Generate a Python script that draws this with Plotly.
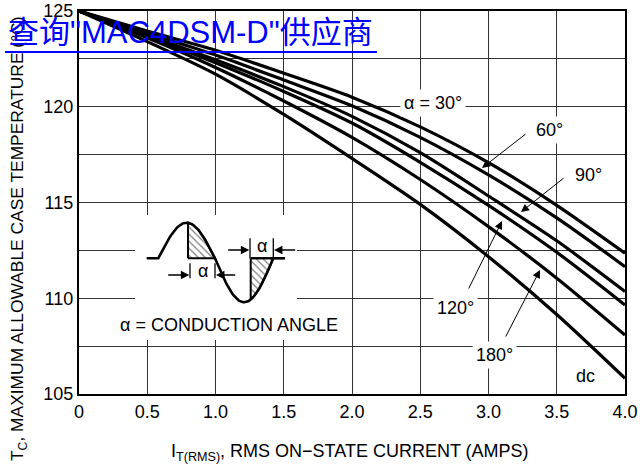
import numpy as np
import plotly.graph_objects as go

# ---------------- data ----------------
current = [0, 0.5, 1.0, 1.5, 2.0, 2.5, 3.0, 3.5, 4.0]
tc_30 = [125, 123.95, 122.95, 121.75, 120.5, 118.95, 117.08, 114.85, 112.35]
tc_60 = [125, 123.85, 122.7, 121.4, 120.05, 118.4, 116.44, 114.2, 111.65]
tc_90 = [125, 123.75, 122.45, 121.05, 119.5, 117.6, 115.34, 113.0, 110.35]
tc_120 = [125, 123.7, 122.3, 120.8, 119.15, 117.1, 114.85, 112.4, 109.65]
tc_180 = [125, 123.6, 122.05, 120.3, 118.4, 116.2, 113.74, 111.05, 108.08]
tc_dc = [125, 123.4, 121.7, 119.6, 117.3, 114.9, 112.17, 109.15, 105.82]

x_ticks = [0, 0.5, 1.0, 1.5, 2.0, 2.5, 3.0, 3.5, 4.0]
x_ticklabels = ["0", "0.5", "1.0", "1.5", "2.0", "2.5", "3.0", "3.5", "4.0"]
y_ticks = [105, 110, 115, 120, 125]

FONT = "Liberation Sans, Arial, sans-serif"

# plot-area pixel frame (for placing illustration elements)
L, R, T, B = 79, 625, 11, 394
W, H = 640, 471


def X(px):
    return (px - L) / (R - L) * 4.0


def Y(py):
    return 125 - (py - T) / (B - T) * 20.0


def PX(px):
    return (px - L) / (R - L)


def PY(py):
    return (B - py) / (B - T)


fig = go.Figure()

for ys in [tc_30, tc_60, tc_90, tc_120, tc_180, tc_dc]:
    fig.add_trace(go.Scatter(x=current, y=ys, mode="lines",
                             line=dict(color="black", width=3.2, shape="spline", smoothing=0.8),
                             showlegend=False, hoverinfo="skip"))

# ---------------- inset waveform illustration ----------------
z0 = 258.3
x_start, x_mid, x_end = 158.3, 215.0, 273.3
amp_pos, amp_neg = 35.6, 44.0


def sine_px(px):
    px = np.asarray(px, dtype=float)
    out = np.full_like(px, z0)
    m1 = (px >= x_start) & (px <= x_mid)
    out[m1] = z0 - amp_pos * np.sin(np.pi * (px[m1] - x_start) / (x_mid - x_start))
    m2 = (px > x_mid) & (px <= x_end)
    out[m2] = z0 + amp_neg * np.sin(np.pi * (px[m2] - x_mid) / (x_end - x_mid))
    return out


wx = np.concatenate([[146.7], np.linspace(x_start, x_end, 120), [285.0]])
wy = sine_px(wx)

f1 = 188.0
hx1 = np.linspace(f1, x_mid, 30)
hy1 = sine_px(hx1)
poly1_x = np.concatenate([[f1], hx1, [x_mid, f1]])
poly1_y = np.concatenate([[z0], hy1, [z0, z0]])
f2 = 250.7
hx2 = np.linspace(f2, x_end, 30)
hy2 = sine_px(hx2)
poly2_x = np.concatenate([[f2], hx2, [x_end, f2]])
poly2_y = np.concatenate([[z0], hy2, [z0, z0]])

for px_, py_ in [(poly1_x, poly1_y), (poly2_x, poly2_y)]:
    fig.add_trace(go.Scatter(x=X(px_), y=Y(py_), mode="lines", fill="toself",
                             fillcolor="white",
                             fillpattern=dict(shape="\\", fgcolor="black", bgcolor="white",
                                              size=5, solidity=0.25),
                             line=dict(color="black", width=2),
                             showlegend=False, hoverinfo="skip"))
fig.add_trace(go.Scatter(x=X(np.array([f2, 285.0])), y=Y(np.array([z0, z0])), mode="lines",
                         line=dict(color="black", width=2), showlegend=False, hoverinfo="skip"))
fig.add_trace(go.Scatter(x=X(wx), y=Y(wy), mode="lines",
                         line=dict(color="black", width=2.6), showlegend=False, hoverinfo="skip"))

dim_ticks = [(190, 263.3, 278.3), (215, 263.3, 278.3), (250, 238.3, 258.3), (273.3, 238.3, 258.3)]
for tx, ty0, ty1 in dim_ticks:
    fig.add_trace(go.Scatter(x=X(np.array([tx, tx])), y=Y(np.array([ty0, ty1])), mode="lines",
                             line=dict(color="black", width=1.3), showlegend=False, hoverinfo="skip"))

shapes = []
shapes.append(dict(type="rect", xref="x", yref="y", x0=X(135), x1=X(297), y0=Y(215), y1=Y(340),
                   fillcolor="white", line=dict(width=0), layer="between"))
shapes.append(dict(type="rect", xref="x", yref="y", x0=X(118), x1=X(341), y0=Y(312), y1=Y(340),
                   fillcolor="white", line=dict(width=0), layer="between"))
shapes.append(dict(type="line", xref="paper", yref="paper", x0=PX(5), x1=PX(377), y0=PY(52), y1=PY(52),
                   line=dict(color="#0000FF", width=2), layer="above"))

annotations = []


def label(text, px, py, size=18):
    annotations.append(dict(x=X(px), y=Y(py), xref="x", yref="y", text=text, showarrow=False,
                            font=dict(family=FONT, size=size, color="black"),
                            bgcolor="white", borderpad=3))


def arrow(tail, tip, width=1.0, size=1.6):
    annotations.append(dict(x=X(tip[0]), y=Y(tip[1]), ax=X(tail[0]), ay=Y(tail[1]),
                            xref="x", yref="y", axref="x", ayref="y", text="",
                            showarrow=True, arrowhead=2, arrowsize=size, arrowwidth=width,
                            arrowcolor="black"))


label("α = 30°", 433, 103)
label("60°", 549, 130)
label("90°", 588, 175)
label("120°", 455, 308)
label("180°", 494, 355)
label("dc", 585, 376)

arrow((527, 133), (482, 168))
arrow((565, 177), (521, 212))
arrow((468, 290), (502, 221))
arrow((505, 338), (540, 270))

arrow((166.7, 275), (189.3, 275), width=1.3, size=1.3)
arrow((236.7, 275), (216, 275), width=1.3, size=1.3)
arrow((226.7, 250), (249.3, 250), width=1.3, size=1.3)
arrow((296.7, 250), (274, 250), width=1.3, size=1.3)
annotations.append(dict(x=X(202.5), y=Y(271), xref="x", yref="y", text="α", showarrow=False,
                        font=dict(family=FONT, size=18, color="black")))
annotations.append(dict(x=X(261.7), y=Y(246), xref="x", yref="y", text="α", showarrow=False,
                        font=dict(family=FONT, size=18, color="black")))
annotations.append(dict(x=X(229), y=Y(325), xref="x", yref="y", text="α = CONDUCTION ANGLE",
                        showarrow=False, font=dict(family=FONT, size=18, color="black")))

annotations.append(dict(x=PX(350), y=PY(452), xref="paper", yref="paper",
                        xanchor="center", yanchor="middle",
                        text="I<sub>T(RMS)</sub>, RMS ON−STATE CURRENT (AMPS)", showarrow=False,
                        font=dict(family=FONT, size=18, color="black")))
annotations.append(dict(x=PX(18), y=PY(239), xref="paper", yref="paper", textangle=-90,
                        xanchor="center", yanchor="middle",
                        text="T<sub>C</sub>, MAXIMUM ALLOWABLE CASE TEMPERATURE (°C)", showarrow=False,
                        font=dict(family=FONT, size=17.4, color="black")))

annotations.append(dict(x=PX(6), y=PY(33), xref="paper", yref="paper", xanchor="left", yanchor="middle",
                        text="查询\"MAC4DSM-D\"供应商", showarrow=False,
                        font=dict(family="Liberation Sans, Arial, Noto Sans CJK SC", size=31, color="#0000FF")))

fig.update_layout(
    width=W, height=H,
    margin=dict(l=L, r=W - R, t=T, b=H - B, pad=0, autoexpand=False),
    paper_bgcolor="white", plot_bgcolor="white",
    shapes=shapes, annotations=annotations,
    font=dict(family=FONT, size=17, color="black"),
)
fig.update_xaxes(range=[0, 4.0], tickvals=x_ticks, ticktext=x_ticklabels, automargin=False,
                 showgrid=True, gridcolor="#333333", gridwidth=1.3,
                 showline=True, linecolor="black", linewidth=2.2, mirror=True,
                 ticks="", tickfont=dict(family=FONT, size=18), zeroline=False)
fig.update_yaxes(range=[105, 125], tickvals=y_ticks, automargin=False,
                 showgrid=True, gridcolor="#333333", gridwidth=1.3,
                 minor=dict(dtick=2.5, showgrid=True, gridcolor="#333333", gridwidth=1.3),
                 showline=True, linecolor="black", linewidth=2.2, mirror=True,
                 ticks="", tickfont=dict(family=FONT, size=18), zeroline=False)

fig.write_html("out.html", config={"displayModeBar": False},
               post_script="document.body.style.margin='0';document.body.style.overflow='hidden';")
